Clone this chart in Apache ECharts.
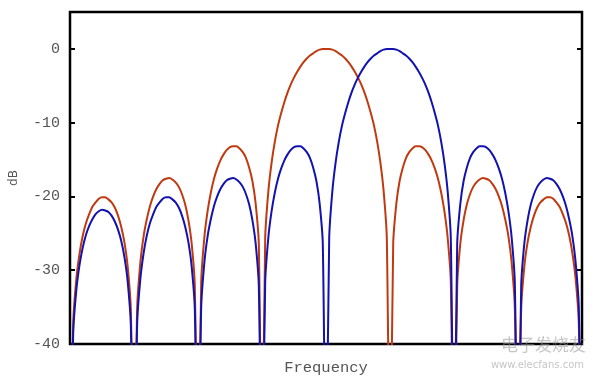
<!DOCTYPE html>
<html>
<head>
<meta charset="utf-8">
<script src="https://cdn.jsdelivr.net/npm/echarts@6/dist/echarts.min.js"></script>
<style>html,body{margin:0;padding:0;background:#fff}#c{width:600px;height:381px}</style>
</head>
<body>
<div id="c"></div>
<script>
// Frequency samples run from -4 to 4 in steps of 0.05 (one value per sample below)
const freqStart = -4, freqStep = 0.05;
const yTicks = [0, -10, -20, -30, -40];

// Red response (main lobe centred at 0); nulls fall below the -40 dB floor
const red = [
-60,-37.1,-31.1,-27.7,-25.3,-23.6,-22.4,-21.4,-20.8,-20.3,-20.1,-20.1,-20.4,-20.8,-21.5,-22.6,-24.1,-26.2,-29.4,-35.2,
-60,-35.0,-28.9,-25.4,-23.1,-21.3,-20.0,-19.0,-18.3,-17.8,-17.6,-17.5,-17.7,-18.1,-18.7,-19.7,-21.1,-23.2,-26.3,-32.1,
-60,-31.6,-25.5,-22.0,-19.5,-17.6,-16.2,-15.1,-14.3,-13.7,-13.3,-13.2,-13.2,-13.5,-14.0,-14.8,-16.1,-17.9,-20.9,-26.4,
-60,-25.6,-19.2,-15.4,-12.6,-10.4,-8.7,-7.2,-5.9,-4.8,-3.9,-3.1,-2.4,-1.8,-1.3,-0.9,-0.6,-0.3,-0.1,0.0,
0,
0.0,-0.1,-0.3,-0.6,-0.9,-1.3,-1.8,-2.4,-3.1,-3.9,-4.8,-5.9,-7.2,-8.7,-10.4,-12.6,-15.4,-19.2,-25.6,-60,
-26.4,-20.9,-17.9,-16.1,-14.8,-14.0,-13.5,-13.2,-13.2,-13.3,-13.7,-14.3,-15.1,-16.2,-17.6,-19.5,-22.0,-25.5,-31.6,-60,
-32.1,-26.3,-23.2,-21.1,-19.7,-18.7,-18.1,-17.7,-17.5,-17.6,-17.8,-18.3,-19.0,-20.0,-21.3,-23.1,-25.4,-28.9,-35.0,-60,
-35.2,-29.4,-26.2,-24.1,-22.6,-21.5,-20.8,-20.4,-20.1,-20.1,-20.3,-20.8,-21.4,-22.4,-23.6,-25.3,-27.7,-31.1,-37.1,-60
];

// Blue response (main lobe centred at 1)
const blue = [
-60,-38.5,-32.6,-29.2,-26.9,-25.2,-24.0,-23.1,-22.4,-22.0,-21.8,-21.9,-22.1,-22.6,-23.4,-24.5,-26.0,-28.2,-31.4,-37.3,
-60,-37.1,-31.1,-27.7,-25.3,-23.6,-22.4,-21.4,-20.8,-20.3,-20.1,-20.1,-20.4,-20.8,-21.5,-22.6,-24.1,-26.2,-29.4,-35.2,
-60,-35.0,-28.9,-25.4,-23.1,-21.3,-20.0,-19.0,-18.3,-17.8,-17.6,-17.5,-17.7,-18.1,-18.7,-19.7,-21.1,-23.2,-26.3,-32.1,
-60,-31.6,-25.5,-22.0,-19.5,-17.6,-16.2,-15.1,-14.3,-13.7,-13.3,-13.2,-13.2,-13.5,-14.0,-14.8,-16.1,-17.9,-20.9,-26.4,
-60,-25.6,-19.2,-15.4,-12.6,-10.4,-8.7,-7.2,-5.9,-4.8,-3.9,-3.1,-2.4,-1.8,-1.3,-0.9,-0.6,-0.3,-0.1,0.0,
0,
0.0,-0.1,-0.3,-0.6,-0.9,-1.3,-1.8,-2.4,-3.1,-3.9,-4.8,-5.9,-7.2,-8.7,-10.4,-12.6,-15.4,-19.2,-25.6,-60,
-26.4,-20.9,-17.9,-16.1,-14.8,-14.0,-13.5,-13.2,-13.2,-13.3,-13.7,-14.3,-15.1,-16.2,-17.6,-19.5,-22.0,-25.5,-31.6,-60,
-32.1,-26.3,-23.2,-21.1,-19.7,-18.7,-18.1,-17.7,-17.5,-17.6,-17.8,-18.3,-19.0,-20.0,-21.3,-23.1,-25.4,-28.9,-35.0,-60
];

const freq = red.map((_, i) => +(freqStart + i * freqStep).toFixed(2));
const pairs = arr => arr.map((v, i) => [freq[i], v]);

const mono = '"Liberation Mono", "DejaVu Sans Mono", monospace';
const chart = echarts.init(document.getElementById('c'), null, {renderer: 'canvas'});
const yAxisBase = {
  type: 'value', min: -40, max: 5, interval: 10,
  splitLine: {show: false},
  axisLine: {show: false, onZero: false},
  axisTick: {show: true, inside: true, length: 5, lineStyle: {color: '#000', width: 2}}
};
chart.setOption({
  animation: false,
  backgroundColor: '#fff',
  grid: {left: 67, right: 18, top: 12, bottom: 31, show: true, borderColor: '#000', borderWidth: 2.5},
  xAxis: {
    type: 'value', min: -4, max: 4,
    name: 'Frequency', nameLocation: 'middle', nameGap: 16,
    nameTextStyle: {fontFamily: mono, fontSize: 15.5, color: '#555'},
    axisLine: {show: false, onZero: false}, axisTick: {show: false}, axisLabel: {show: false}, splitLine: {show: false}
  },
  yAxis: [
    Object.assign({}, yAxisBase, {
      position: 'left',
      name: 'dB', nameLocation: 'middle', nameGap: 50,
      nameTextStyle: {fontFamily: '"DejaVu Sans", sans-serif', fontSize: 12, color: '#555'},
      axisLabel: {
        fontFamily: mono, fontSize: 15, color: '#555', margin: 10,
        formatter: v => yTicks.indexOf(v) >= 0 ? String(v) : ''
      }
    }),
    Object.assign({}, yAxisBase, {position: 'right', axisLabel: {show: false}})
  ],
  series: [
    {type: 'line', data: pairs(red), showSymbol: false, clip: true, smooth: 0.2,
     lineStyle: {color: '#c03a10', width: 2}, itemStyle: {color: '#c03a10'}},
    {type: 'line', data: pairs(blue), showSymbol: false, clip: true, smooth: 0.2,
     lineStyle: {color: '#1212b0', width: 2}, itemStyle: {color: '#1212b0'}}
  ],
  graphic: [
    {type: 'text', right: 14, top: 336, silent: true,
     style: {text: '电子发烧友', fontSize: 17, fontFamily: '"Noto Sans CJK SC", sans-serif', fill: 'rgba(150,150,150,0.55)'}},
    {type: 'text', right: 16, top: 360, silent: true,
     style: {text: 'www.elecfans.com', fontSize: 10, fontFamily: '"DejaVu Sans", sans-serif', fill: 'rgba(150,150,150,0.55)'}}
  ]
});
</script>
</body>
</html>
